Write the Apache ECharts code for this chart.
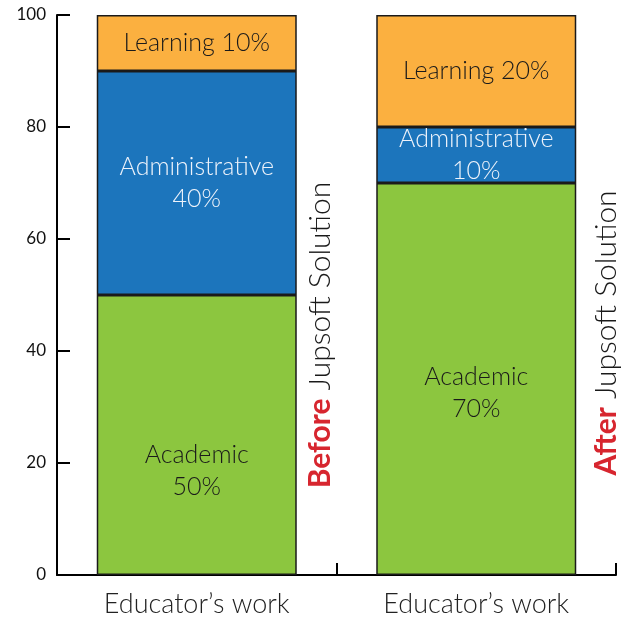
<!DOCTYPE html>
<html><head><meta charset="utf-8">
<script src="https://cdn.jsdelivr.net/npm/echarts@6/dist/echarts.min.js"></script>
<style>html,body{margin:0;padding:0;background:#fff}#c{width:622px;height:621px}</style>
</head><body><div id="c"></div>
<script>
var categories = ['Educator\u2019s work', 'Educator\u2019s work'];
var academic = [50, 70];
var administrative = [40, 10];
var learning = [10, 20];
var yTicks = [0, 20, 40, 60, 80, 100];
var sideNotes = [['Before', ' Jupsoft Solution'], ['After', ' Jupsoft Solution']];

var FONT = 'Lato, "Noto Sans", sans-serif';
var chart = echarts.init(document.getElementById('c'));
var border = {borderColor: '#1a1a1a', borderWidth: 1.5};
function lbl(color, name) {
  return {show: true, position: 'inside', color: color, fontFamily: FONT, fontWeight: 300, fontSize: 25, lineHeight: 32,
    formatter: function (p) { return name === 'Learning' ? name + ' ' + p.value + '%' : name + '\n' + p.value + '%'; }};
}
var academicOffsets = [[0, 36], [0, 14]];
chart.setOption({
  animation: false,
  grid: {left: 57, right: 6, top: 15, bottom: 46},
  xAxis: {type: 'category', data: categories,
    axisLine: {lineStyle: {color: '#000', width: 2}},
    axisTick: {show: true, inside: true, length: 12, lineStyle: {color: '#000', width: 2}},
    axisLabel: {color: '#222', fontFamily: FONT, fontWeight: 300, fontSize: 27, margin: 16}},
  yAxis: {type: 'value', min: yTicks[0], max: yTicks[yTicks.length - 1], interval: 20,
    axisLine: {show: true, lineStyle: {color: '#000', width: 2}},
    axisTick: {show: true, inside: true, length: 13, lineStyle: {color: '#000', width: 2}},
    splitLine: {show: false},
    axisLabel: {color: '#111', fontFamily: FONT, fontSize: 17, margin: 11}},
  series: [
    {type: 'bar', stack: 's', barWidth: 200, itemStyle: Object.assign({color: '#8cc63f'}, border),
      label: lbl('#1a1a1a', 'Academic'),
      data: academic.map(function (v, i) { return {value: v, label: {offset: academicOffsets[i]}}; })},
    {type: 'bar', stack: 's', barWidth: 200, itemStyle: Object.assign({color: '#1c75bc'}, border),
      label: lbl('#eef3fb', 'Administrative'), data: administrative},
    {type: 'bar', stack: 's', barWidth: 200, itemStyle: Object.assign({color: '#fbb040'}, border),
      label: lbl('#1a1a1a', 'Learning'), data: learning}
  ],
  graphic: [
    {type: 'text', x: 320, y: 335, rotation: Math.PI / 2,
      style: {text: '{b|' + sideNotes[0][0] + '}' + sideNotes[0][1], align: 'center', verticalAlign: 'middle',
        fill: '#1a1a1a', font: '300 30px ' + FONT,
        rich: {b: {fill: '#d7262f', fontWeight: 'bold', fontSize: 30, fontFamily: FONT}}}},
    {type: 'text', x: 606, y: 333, rotation: Math.PI / 2,
      style: {text: '{b|' + sideNotes[1][0] + '}' + sideNotes[1][1], align: 'center', verticalAlign: 'middle',
        fill: '#1a1a1a', font: '300 30px ' + FONT,
        rich: {b: {fill: '#d7262f', fontWeight: 'bold', fontSize: 30, fontFamily: FONT}}}}
  ]
});
</script></body></html>
